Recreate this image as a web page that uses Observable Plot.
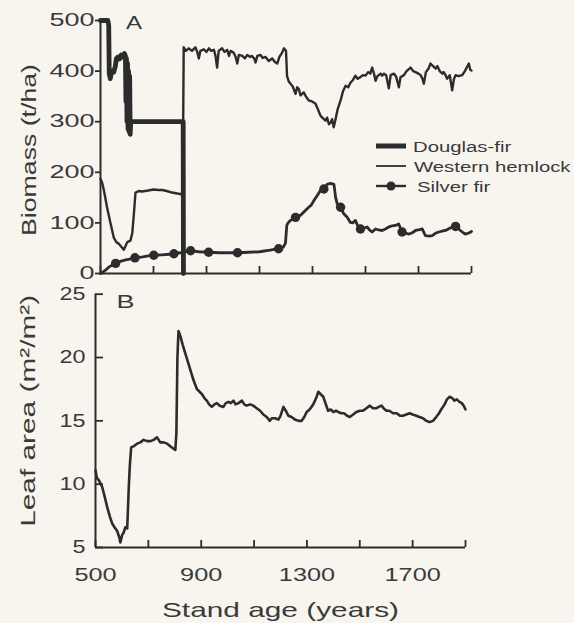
<!DOCTYPE html>
<html>
<head>
<meta charset="utf-8">
<script src="https://cdn.jsdelivr.net/npm/d3@7"></script>
<script src="https://cdn.jsdelivr.net/npm/@observablehq/plot@0.6"></script>
<style>
  html, body { margin: 0; padding: 0; background: #f7f5ee; }
  #wrap { position: relative; width: 574px; height: 623px; overflow: hidden; background: #f7f5ee; }
  #wrap svg { display: block; }
  #wrap svg.panelB { margin-top: -12px; }
  #legend { position: absolute; left: 0; top: 0; }
</style>
</head>
<body>
<div id="wrap"></div>
<script>
// ---------------- data ----------------
const xTickYears = [500, 700, 900, 1100, 1300, 1500, 1700, 1900];
const xLabelYears = [500, 900, 1300, 1700];
const biomassTicks = [0, 100, 200, 300, 400, 500];
const leafTicks = [5, 10, 15, 20, 25];
const legendNames = ["Douglas-fir", "Western hemlock", "Silver fir"];

// Panel A: biomass (t/ha) by stand age (years)
const douglasFir = [
  [500,500],[528,500],[531,490],[533,395],[537,385],[542,400],[550,398],[556,410],
  [560,425],[566,428],[572,424],[578,432],[584,428],[590,435],[594,430],[596,340],
  [598,425],[600,300],[602,415],[604,285],[606,400],[608,280],[610,390],[612,275],
  [614,300],[620,300],[700,300],[812,300],[813,0]
];
const hemlock = [
  [500,187],[506,180],[513,164],[525,130],[538,99],[550,71],[560,62],[569,59],[580,52],
  [588,47],[595,55],[601,62],[613,65],[620,80],[626,118],[632,160],[645,163],[657,162],
  [680,164],[700,166],[720,165],[733,165],[750,163],[770,160],[790,158],[802,157],[810,155],
  [814,447],[822,440],[833,445],[845,440],[858,447],[865,438],[871,425],[877,440],[890,443],
  [900,438],[909,445],[918,440],[928,442],[934,430],[940,407],[946,440],[959,445],[968,438],
  [978,442],[985,430],[991,440],[1003,436],[1010,428],[1016,415],[1022,432],[1035,430],
  [1045,425],[1054,432],[1065,428],[1072,430],[1080,425],[1085,417],[1092,430],[1104,432],
  [1112,426],[1123,428],[1135,420],[1148,425],[1158,418],[1167,415],[1175,428],[1185,436],
  [1192,445],[1200,440],[1204,390],[1210,380],[1217,375],[1225,370],[1236,355],[1242,368],
  [1248,365],[1255,352],[1267,358],[1275,350],[1286,342],[1298,340],[1311,336],[1320,325],
  [1330,312],[1337,308],[1349,302],[1355,308],[1362,295],[1368,298],[1374,305],[1380,289],
  [1387,305],[1395,325],[1406,342],[1415,360],[1425,371],[1435,368],[1443,377],[1452,382],
  [1462,391],[1470,385],[1481,388],[1490,392],[1500,391],[1510,398],[1518,395],[1525,407],
  [1532,395],[1538,381],[1545,390],[1557,395],[1563,391],[1569,395],[1578,392],[1588,366],
  [1595,392],[1607,395],[1615,390],[1626,368],[1632,388],[1645,392],[1655,400],[1670,407],
  [1680,400],[1689,398],[1700,395],[1708,392],[1715,385],[1720,375],[1728,398],[1738,405],
  [1745,415],[1755,410],[1765,405],[1771,410],[1780,400],[1790,395],[1795,398],[1802,392],
  [1808,385],[1818,392],[1827,362],[1834,385],[1840,392],[1850,390],[1865,392],[1875,400],
  [1883,408],[1890,415],[1895,403],[1900,401]
];
const silverFir = [
  [500,0],[510,3],[520,7],[530,12],[545,17],[557,20],[575,24],[595,27],[615,29],[630,31],
  [660,33],[680,35],[701,36],[730,37],[760,38],[777,39],[800,41],[820,43],[840,45],[870,43],
  [908,42],[950,41],[990,41],[1017,41],[1060,42],[1100,43],[1140,46],[1172,49],[1190,52],
  [1198,60],[1203,95],[1209,101],[1217,105],[1236,111],[1255,115],[1274,125],[1286,131],
  [1295,135],[1305,144],[1318,154],[1330,164],[1343,167],[1355,176],[1368,178],[1381,176],
  [1387,151],[1393,138],[1406,131],[1418,118],[1431,111],[1443,101],[1452,100],[1462,105],
  [1470,95],[1481,88],[1495,90],[1506,92],[1515,86],[1525,82],[1538,88],[1550,86],[1563,85],
  [1575,88],[1588,92],[1600,94],[1613,95],[1625,98],[1638,82],[1650,80],[1664,78],[1675,80],
  [1689,85],[1700,86],[1714,88],[1726,75],[1740,74],[1752,75],[1765,80],[1777,82],[1790,84],
  [1802,85],[1820,90],[1840,93],[1858,85],[1870,80],[1877,78],[1890,80],[1900,83]
];
const silverFirMarkers = [
  [557,20],[630,31],[701,36],[777,39],[840,45],[908,42],[1017,41],[1172,49],[1236,111],
  [1343,167],[1406,131],[1481,88],[1638,82],[1840,93]
];

// Panel B: leaf area (m2/m2) by stand age (years)
const leafArea = [
  [500,11.1],[505,10.5],[513,10.3],[525,9.8],[535,9.0],[544,8.2],[555,7.4],[563,6.9],[572,6.6],
  [582,6.3],[590,5.8],[594,5.4],[601,6.0],[607,6.2],[613,6.6],[620,6.5],[626,9.8],[630,11.5],
  [635,12.9],[645,13.0],[657,13.2],[670,13.3],[682,13.5],[695,13.4],[708,13.4],[720,13.5],
  [733,13.7],[745,13.3],[758,13.3],[771,13.2],[789,12.9],[802,12.7],[806,14],[810,20],
  [814,22.1],[821,21.7],[830,21.0],[840,20.3],[852,19.5],[862,18.8],[871,18.2],[884,17.5],
  [903,17.1],[912,16.8],[921,16.6],[930,16.3],[940,16.1],[950,16.3],[959,16.4],[970,16.2],
  [984,16.1],[993,16.4],[1003,16.5],[1012,16.4],[1022,16.6],[1030,16.3],[1041,16.4],[1054,16.6],
  [1063,16.3],[1072,16.2],[1085,16.3],[1097,16.2],[1110,16.0],[1123,15.8],[1135,15.5],[1148,15.3],
  [1160,15.0],[1167,15.2],[1180,15.2],[1192,15.1],[1200,15.4],[1211,16.1],[1220,15.8],[1230,15.4],
  [1242,15.3],[1255,15.1],[1268,15.0],[1280,15.0],[1290,15.3],[1299,15.7],[1310,15.9],[1324,16.3],
  [1335,16.8],[1343,17.3],[1352,17.1],[1362,16.9],[1370,16.4],[1380,15.8],[1390,15.9],[1400,15.7],
  [1410,15.8],[1418,15.7],[1430,15.6],[1440,15.6],[1452,15.4],[1462,15.3],[1475,15.5],[1487,15.7],
  [1500,15.8],[1512,15.8],[1525,16.0],[1538,16.2],[1550,16.0],[1563,16.0],[1572,16.1],[1582,16.2],
  [1590,16.0],[1601,15.8],[1612,15.8],[1626,15.6],[1640,15.6],[1652,15.4],[1663,15.4],[1676,15.5],
  [1689,15.6],[1700,15.5],[1714,15.4],[1726,15.3],[1739,15.2],[1752,15.0],[1764,14.9],[1777,15.0],
  [1789,15.3],[1800,15.6],[1808,15.9],[1821,16.3],[1830,16.7],[1840,16.9],[1850,16.8],[1858,16.6],
  [1867,16.7],[1877,16.5],[1886,16.4],[1893,16.2],[1900,15.9]
];

// ---------------- styling ----------------
const ink = "#2c2c2c";
const textInk = "#3a3a3a";
const font = "'Liberation Sans', Arial, Helvetica, sans-serif";
const X = d => d[0], Y = d => d[1];
const plain = d => String(d);

const panelA = Plot.plot({
  width: 574, height: 292,
  marginLeft: 100, marginRight: 103, marginTop: 20, marginBottom: 19,
  style: {background: "transparent", fontFamily: font, fontSize: "18px", color: ink},
  x: {domain: [500, 1900]},
  y: {domain: [0, 500]},
  marks: [
    Plot.axisY({ticks: biomassTicks, tickSize: 5, tickPadding: 1, strokeWidth: 1.8, fontSize: 18, fill: textInk, tickFormat: plain, label: null}),
    Plot.axisX({ticks: xTickYears, tickSize: -7, tickFormat: () => "", strokeWidth: 1.8, label: null}),
    Plot.ruleX([500], {stroke: ink, strokeWidth: 2}),
    Plot.ruleY([0], {stroke: ink, strokeWidth: 2}),
    Plot.line(silverFir, {x: X, y: Y, stroke: ink, strokeWidth: 2.8}),
    Plot.dot(silverFirMarkers, {x: X, y: Y, r: 4.7, fill: ink, stroke: "none"}),
    Plot.line(hemlock, {x: X, y: Y, stroke: ink, strokeWidth: 2.4}),
    Plot.line(douglasFir, {x: X, y: Y, stroke: ink, strokeWidth: 4.8}),
    Plot.text(["Biomass (t/ha)"], {text: d => d, frameAnchor: "left", textAnchor: "middle", lineAnchor: "middle", rotate: -90, dx: -71, dy: 3, fontSize: 21, fill: textInk}),
    Plot.text(["A"], {text: d => d, frameAnchor: "top-left", textAnchor: "middle", lineAnchor: "middle", dx: 33.5, dy: 2.5, fontSize: 19, fill: textInk})
  ]
});
panelA.classList.add("panelA");

const panelB = Plot.plot({
  width: 574, height: 343,
  marginLeft: 95, marginRight: 109, marginTop: 13.7, marginBottom: 76,
  style: {background: "transparent", fontFamily: font, fontSize: "18px", color: ink},
  x: {domain: [500, 1900]},
  y: {domain: [5, 25]},
  marks: [
    Plot.axisY({ticks: leafTicks, tickSize: -8, tickFormat: () => "", strokeWidth: 1.8, label: null}),
    Plot.axisY({ticks: leafTicks, tickSize: 0, tickPadding: 10, fontSize: 18, fill: textInk, tickFormat: plain, label: null}),
    Plot.axisX({ticks: xTickYears, tickSize: -7, tickFormat: () => "", strokeWidth: 1.8, label: null}),
    Plot.axisX({ticks: xLabelYears, tickSize: 0, tickPadding: 20, fontSize: 19, fill: textInk, tickFormat: plain, label: null}),
    Plot.ruleX([500], {stroke: ink, strokeWidth: 2}),
    Plot.ruleY([5], {stroke: ink, strokeWidth: 2}),
    Plot.line(leafArea, {x: X, y: Y, stroke: ink, strokeWidth: 2.6}),
    Plot.text(["Leaf area (m²/m²)"], {text: d => d, frameAnchor: "left", textAnchor: "middle", lineAnchor: "middle", rotate: -90, dx: -67, dy: -10, fontSize: 21, fill: textInk}),
    Plot.text(["Stand age (years)"], {text: d => d, frameAnchor: "bottom", textAnchor: "middle", lineAnchor: "middle", dy: 63, fontSize: 21, fill: textInk}),
    Plot.text(["B"], {text: d => d, frameAnchor: "top-left", textAnchor: "middle", lineAnchor: "middle", dx: 30, dy: 8, fontSize: 19, fill: textInk})
  ]
});
panelB.classList.add("panelB");

const wrap = document.getElementById("wrap");
wrap.appendChild(panelA);
wrap.appendChild(panelB);

// legend (overlay)
const NS = "http://www.w3.org/2000/svg";
const leg = document.createElementNS(NS, "svg");
leg.setAttribute("id", "legend");
leg.setAttribute("width", 574);
leg.setAttribute("height", 623);
leg.style.fontFamily = font;
const legendRows = [
  {name: legendNames[0], y: 146, w: 5, dot: false, tx: 413},
  {name: legendNames[1], y: 166, w: 1.8, dot: false, tx: 414},
  {name: legendNames[2], y: 186, w: 2.4, dot: true, tx: 417}
];
legendRows.forEach(r => {
  const l = document.createElementNS(NS, "line");
  l.setAttribute("x1", 376); l.setAttribute("x2", 406);
  l.setAttribute("y1", r.y); l.setAttribute("y2", r.y);
  l.setAttribute("stroke", ink); l.setAttribute("stroke-width", r.w);
  leg.appendChild(l);
  if (r.dot) {
    const c = document.createElementNS(NS, "circle");
    c.setAttribute("cx", 391); c.setAttribute("cy", r.y); c.setAttribute("r", 4.5);
    c.setAttribute("fill", ink);
    leg.appendChild(c);
  }
  const t = document.createElementNS(NS, "text");
  t.setAttribute("x", r.tx); t.setAttribute("y", r.y + 5.5);
  t.setAttribute("font-size", 15.5); t.setAttribute("fill", textInk);
  t.textContent = r.name;
  leg.appendChild(t);
});
wrap.appendChild(leg);

// the original typeface is much wider than Helvetica: stretch glyphs
function stretch(nodes, k) {
  nodes.forEach(t => {
    const len = t.getComputedTextLength();
    if (len > 0) {
      t.setAttribute("textLength", (len * k).toFixed(1));
      t.setAttribute("lengthAdjust", "spacingAndGlyphs");
    }
  });
}
stretch(panelA.querySelectorAll('g[aria-label="y-axis tick label"] text'), 1.5);
stretch(panelA.querySelectorAll('g[aria-label="text"] text'), 1.27);
stretch(panelB.querySelectorAll('g[aria-label="y-axis tick label"] text'), 1.3);
stretch(panelB.querySelectorAll('g[aria-label="x-axis tick label"] text'), 1.33);
stretch(panelB.querySelectorAll('g[aria-label="text"] text'), 1.42);
stretch(leg.querySelectorAll("text"), 1.31);
</script>
</body>
</html>
